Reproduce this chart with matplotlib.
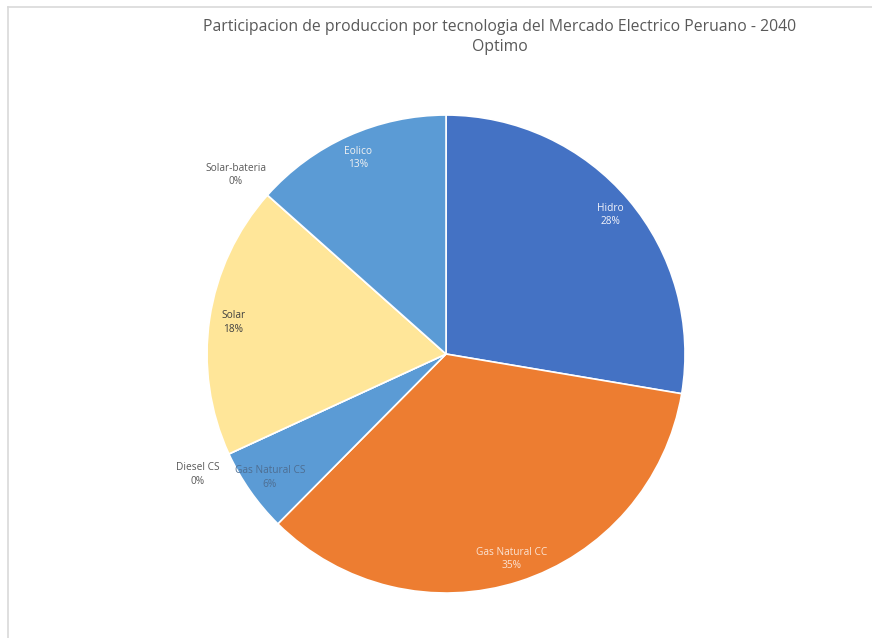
import numpy as np
import matplotlib
matplotlib.use("Agg")
import matplotlib.pyplot as plt
from matplotlib.lines import Line2D

plt.rcParams["font.family"] = ["Open Sans", "DejaVu Sans"]

technologies = ["Hidro", "Gas Natural CC", "Gas Natural CS", "Diesel CS",
                "Solar", "Solar-bateria", "Eolico"]
shares = [27.6, 34.7, 5.7, 0.0, 18.4, 0.0, 13.4]
colors = ["#4472C4", "#ED7D31", "#5B9BD5", "#A5A5A5",
          "#FFE699", "#FFC000", "#5B9BD5"]
label_colors = ["#F4F4FB", "#FBE3D3", "#4E6E92", "#595959",
                "#404040", "#595959", "#F2F2F2"]


def save_pie_chart() -> None:
    fig = plt.figure(figsize=(8.72, 6.38), dpi=100)
    ax = fig.add_axes([0.2374, 0.0705, 0.5482, 0.7492])

    wedges, _ = ax.pie(
        shares,
        colors=colors,
        startangle=90,
        counterclock=False,
        radius=1.0,
        wedgeprops={"edgecolor": "white", "linewidth": 1.2},
    )
    ax.set_xlim(-1, 1)
    ax.set_ylim(-1, 1)
    ax.set_aspect("equal")
    ax.axis("off")

    total = sum(shares)
    for w, name, val, tc in zip(wedges, technologies, shares, label_colors):
        if val > 0:
            mid = np.deg2rad((w.theta1 + w.theta2) / 2)
            dist = 0.9
        else:
            mid = np.deg2rad(w.theta1 + 1.2)
            dist = 1.155
        ax.text(dist * np.cos(mid), dist * np.sin(mid),
                f"{name}\n{val / total * 100:.0f}%",
                ha="center", va="center", fontsize=7.3, color=tc,
                linespacing=1.3, clip_on=False)

    fig.text(0.573, 0.958,
             "Participacion de produccion por tecnologia del Mercado Electrico Peruano - 2040",
             ha="center", va="center", fontsize=11.3, color="#595959")
    fig.text(0.573, 0.926, "Optimo", ha="center", va="center",
             fontsize=11.3, color="#595959")

    # chart frame (top and left edges visible in the crop)
    fig.add_artist(Line2D([0.0095, 1.0], [0.989, 0.989], color="#D9D9D9", lw=1.2))
    fig.add_artist(Line2D([0.0095, 0.0095], [0.0, 0.989], color="#D9D9D9", lw=1.2))

    fig.savefig("out.png", dpi=100, facecolor="white")
    plt.close(fig)


if __name__ == "__main__":
    save_pie_chart()
